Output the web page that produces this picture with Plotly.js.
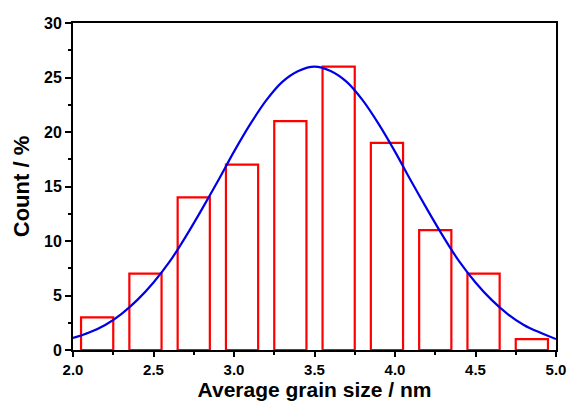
<!DOCTYPE html>
<html>
<head>
<meta charset="utf-8">
<script src="https://cdn.plot.ly/plotly-3.0.1.min.js"></script>
<style>html,body{margin:0;padding:0;background:#fff;}#chart{width:571px;height:403px;}</style>
</head>
<body>
<div id="chart"></div>
<script>
// Histogram bins (centers, nm) and counts (%)
const binCenters = [2.15, 2.45, 2.75, 3.05, 3.35, 3.65, 3.95, 4.25, 4.55, 4.85];
const counts = [3, 7, 14, 17, 21, 26, 19, 11, 7, 1];
const binWidth = 0.2;

// Fitted curve
const fitX = [2.0, 2.1, 2.2, 2.3, 2.4, 2.5, 2.6, 2.7, 2.8, 2.9, 3.0, 3.1, 3.2, 3.3, 3.4, 3.5,
              3.6, 3.7, 3.8, 3.9, 4.0, 4.1, 4.2, 4.3, 4.4, 4.5, 4.6, 4.7, 4.8, 4.9, 5.0];
const fitY = [1.1, 1.6, 2.3, 3.3, 4.6, 6.2, 8.1, 10.4, 12.9, 15.5, 18.2, 20.7, 22.9, 24.6, 25.6, 26.0,
              25.6, 24.6, 22.9, 20.7, 18.2, 15.5, 12.9, 10.4, 8.1, 6.2, 4.6, 3.3, 2.3, 1.6, 1.0];

const fontFam = 'Arial, "Liberation Sans", sans-serif';

const traces = [
  {
    type: 'bar',
    x: binCenters,
    y: counts,
    width: binWidth,
    marker: {color: 'rgba(255,255,255,0)', line: {color: '#ff0000', width: 2.2}},
    hoverinfo: 'none'
  },
  {
    type: 'scatter',
    mode: 'lines',
    x: fitX,
    y: fitY,
    line: {color: '#0000e6', width: 2.2, shape: 'spline'},
    hoverinfo: 'none'
  }
];

const layout = {
  width: 571,
  height: 403,
  margin: {l: 73, r: 15, t: 23, b: 53},
  paper_bgcolor: '#ffffff',
  plot_bgcolor: '#ffffff',
  showlegend: false,
  font: {family: fontFam, color: '#000'},
  xaxis: {
    range: [2, 5],
    tickmode: 'linear', tick0: 2, dtick: 0.5,
    tickformat: '.1f',
    ticks: 'outside', ticklen: 5, tickwidth: 2, tickcolor: '#000',
    minor: {dtick: 0.25, ticks: 'outside', ticklen: 3, tickwidth: 2, tickcolor: '#000'},
    showline: true, linewidth: 2, linecolor: '#000', mirror: true,
    showgrid: false, zeroline: false,
    tickfont: {family: fontFam, size: 15, weight: 'bold', color: '#000'},
    title: {text: 'Average grain size / nm', font: {family: fontFam, size: 21, weight: 'bold', color: '#000'}, standoff: 4}
  },
  yaxis: {
    range: [0, 30],
    tickmode: 'linear', tick0: 0, dtick: 5,
    ticks: 'outside', ticklen: 6, tickwidth: 2, tickcolor: '#000',
    minor: {dtick: 2.5, ticks: 'outside', ticklen: 3, tickwidth: 2, tickcolor: '#000'},
    showline: true, linewidth: 2, linecolor: '#000', mirror: true,
    showgrid: false, zeroline: false,
    tickfont: {family: fontFam, size: 16, weight: 'bold', color: '#000'},
    title: {text: 'Count / %', font: {family: fontFam, size: 22, weight: 'bold', color: '#000'}, standoff: 8}
  }
};

Plotly.newPlot('chart', traces, layout, {displayModeBar: false, staticPlot: true});
</script>
</body>
</html>
